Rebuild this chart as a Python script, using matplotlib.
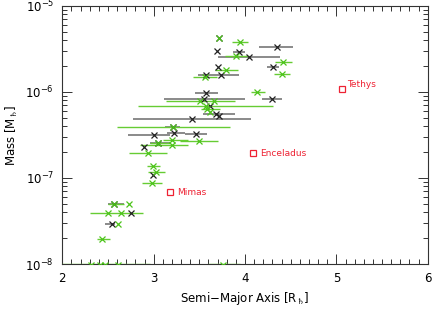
import matplotlib
matplotlib.use('Agg')
import matplotlib.pyplot as plt
import numpy as np
from matplotlib.ticker import MultipleLocator, LogLocator, NullFormatter

# black crosses: semi-major axis [Rs], mass [Ms], error bar low/high
blk_a = [3.715, 4.345, 3.69, 3.929, 4.044, 3.707, 4.304, 3.737, 3.573, 3.573,
         4.293, 3.551, 3.616, 3.677, 3.718, 3.419, 3.216, 3.003, 3.227, 3.463,
         3.043, 2.896, 2.995, 2.568, 2.751, 2.546]
blk_m = [4.21e-6, 3.37e-6, 3.0e-6, 2.94e-6, 2.53e-6, 1.97e-6, 1.97e-6, 1.58e-6, 1.56e-6, 9.8e-7,
         8.2e-7, 8.2e-7, 6.8e-7, 5.5e-7, 5.19e-7, 4.85e-7, 3.92e-7, 3.19e-7, 3.29e-7, 3.25e-7,
         2.53e-7, 2.31e-7, 1.08e-7, 4.99e-8, 3.95e-8, 2.92e-8]
blk_lo = [3.715, 4.153, 3.69, 3.868, 3.704, 3.707, 4.241, 3.485, 3.573, 3.452,
          4.185, 3.112, 3.616, 3.54, 3.718, 2.773, 3.123, 2.718, 3.145, 3.342,
          2.959, 2.896, 2.995, 2.499, 2.751, 2.466]
blk_hi = [3.715, 4.526, 3.69, 4.0, 4.384, 3.707, 4.373, 3.934, 3.573, 3.704,
          4.404, 4.0, 3.616, 3.89, 3.718, 4.066, 3.288, 3.178, 3.342, 3.584,
          3.178, 2.896, 2.995, 2.674, 2.751, 2.575]

# green crosses
grn_a = [3.715, 3.948, 3.901, 4.42, 4.402, 3.789, 3.567, 4.135, 3.512, 3.655,
         3.573, 3.584, 3.616, 3.211, 3.203, 3.496, 3.203, 3.043, 2.934, 2.995,
         3.025, 2.984, 2.568, 2.729, 2.495, 2.641, 2.605, 2.436]
grn_m = [4.19e-6, 3.78e-6, 2.65e-6, 2.23e-6, 1.61e-6, 1.8e-6, 1.51e-6, 1.01e-6, 7.85e-7, 7.76e-7,
         6.87e-7, 6.34e-7, 5.9e-7, 3.95e-7, 2.77e-7, 2.69e-7, 2.42e-7, 2.53e-7, 1.97e-7, 1.39e-7,
         1.18e-7, 8.8e-8, 4.99e-8, 4.99e-8, 3.95e-8, 3.95e-8, 2.92e-8, 1.97e-8]
grn_lo = [3.715, 3.857, 3.78, 4.33, 4.32, 3.67, 3.43, 4.06, 3.134, 3.655,
          2.827, 3.515, 3.616, 2.597, 3.1, 3.288, 2.849, 2.959, 2.729, 2.926,
          2.937, 2.871, 2.499, 2.729, 2.301, 2.641, 2.605, 2.378]
grn_hi = [3.715, 4.033, 4.04, 4.515, 4.49, 3.923, 3.693, 4.22, 3.89, 3.655,
          4.307, 3.726, 3.616, 3.836, 3.375, 3.704, 3.375, 3.178, 3.145, 3.068,
          3.123, 3.09, 2.674, 2.729, 2.882, 2.641, 2.605, 2.521]

# green crosses just below the plotted mass range (mostly clipped)
low_a = [2.31, 2.41, 2.47, 2.61, 3.76]
low_m = [9.8e-9, 9.8e-9, 9.8e-9, 9.8e-9, 9.8e-9]
low_lo = [2.0, 2.41, 2.47, 2.61, 3.6]
low_hi = [2.96, 2.41, 2.47, 2.61, 3.95]

# known moons
moon_names = ['Mimas', 'Enceladus', 'Tethys']
moon_a = [3.178, 4.091, 5.06]
moon_m = [6.8e-8, 1.94e-7, 1.08e-6]

fig = plt.figure(figsize=(4.36, 3.11), dpi=100)
ax = fig.add_axes([0.143, 0.151, 0.838, 0.830])

def xerr(a, lo, hi):
    a = np.array(a)
    return [a - np.array(lo), np.array(hi) - a]

ax.errorbar(blk_a, blk_m, xerr=xerr(blk_a, blk_lo, blk_hi), fmt='x', color='#222222',
            ecolor='#777777', elinewidth=1.2, capsize=0, ms=5, mew=0.9)
ax.errorbar(grn_a, grn_m, xerr=xerr(grn_a, grn_lo, grn_hi), fmt='x', color='#4cc41a',
            ecolor='#66cc33', elinewidth=1.0, capsize=0, ms=5, mew=0.9)
ax.errorbar(low_a, low_m, xerr=xerr(low_a, low_lo, low_hi), fmt='x', color='#4cc41a',
            ecolor='#88d65a', elinewidth=2.5, capsize=0, ms=5, mew=0.9, zorder=3)

ax.plot(moon_a, moon_m, 's', ms=5, mfc='none', mec='#ee2233', mew=0.9, ls='none')
offsets = [(5, 0), (5, 0), (4, 3)]
for name, a, m, off in zip(moon_names, moon_a, moon_m, offsets):
    ax.annotate(name, (a, m), xytext=off, textcoords='offset points',
                color='#ee2233', fontsize=6.5, va='center', ha='left')

ax.set_yscale('log')
ax.set_xlim(2, 6)
ax.set_ylim(1e-8, 1e-5)
ax.xaxis.set_major_locator(MultipleLocator(1))
ax.xaxis.set_minor_locator(MultipleLocator(0.1))
ax.yaxis.set_major_locator(LogLocator(base=10))
ax.yaxis.set_minor_locator(LogLocator(base=10, subs=np.arange(2, 10)))
ax.yaxis.set_minor_formatter(NullFormatter())
ax.tick_params(which='both', direction='in', top=True, right=True, color='#333333', width=0.7)
ax.tick_params(which='major', length=7, labelsize=8.5, pad=6)
ax.tick_params(which='minor', length=3.5)
for s in ax.spines.values():
    s.set_color('#333333')
    s.set_linewidth(0.8)

ax.set_xlabel('Semi\u2212Major Axis [R$_\u2644$]', fontsize=8.5, labelpad=3)
ax.set_ylabel('Mass [M$_\u2644$]', fontsize=8.5, labelpad=4)

fig.savefig('out.png', dpi=100)
